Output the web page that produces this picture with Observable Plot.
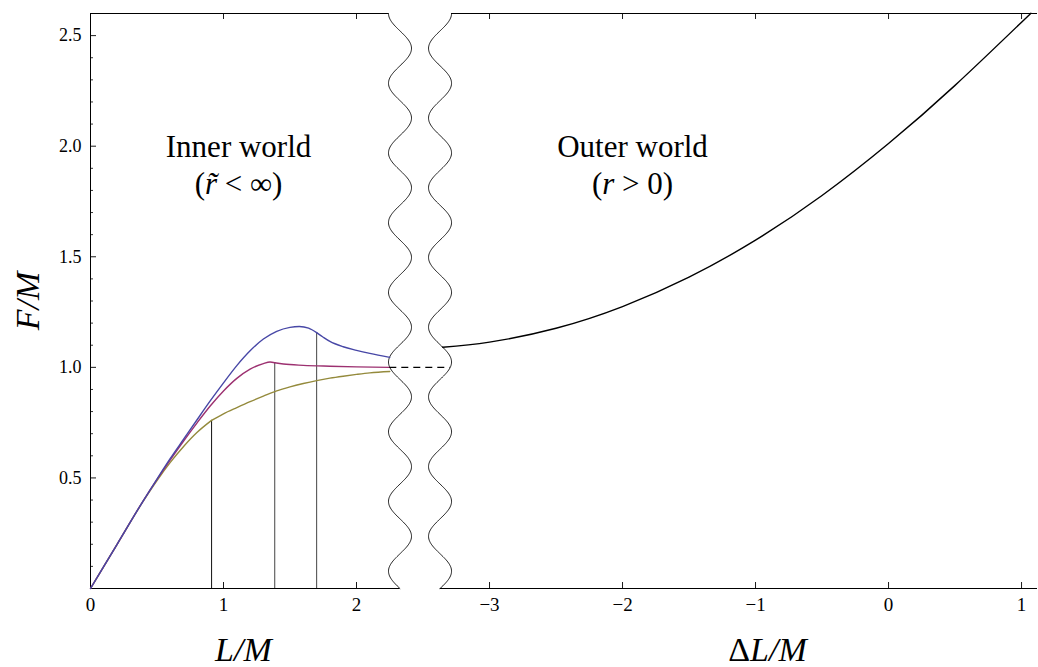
<!DOCTYPE html>
<html><head><meta charset="utf-8">
<script src="https://cdn.jsdelivr.net/npm/d3@7"></script>
<script src="https://cdn.jsdelivr.net/npm/@observablehq/plot@0.6"></script>
<style>body{margin:0;background:#fff} #chart{width:1038px;height:667px}</style>
</head><body><div id="chart"></div>
<script>
// ---- Inner world (left panel): L/M vs F/M ----
const blueL = [0, 0.2, 0.4, 0.5, 0.6, 0.7, 0.8, 0.9, 1.0, 1.1, 1.2, 1.3, 1.4, 1.5, 1.57, 1.64, 1.70, 1.75, 1.8, 1.9, 2.0, 2.1, 2.25];
const blueF = [0, 0.2, 0.4, 0.495, 0.588, 0.675, 0.762, 0.848, 0.93, 1.008, 1.075, 1.128, 1.163, 1.181, 1.185, 1.177, 1.157, 1.136, 1.117, 1.093, 1.077, 1.063, 1.045];
const blueKink = 1.70;
const purpleL = [0, 0.2, 0.4, 0.5, 0.6, 0.7, 0.8, 0.9, 1.0, 1.1, 1.2, 1.3, 1.35, 1.385, 1.45, 1.6, 1.8, 2.0, 2.25];
const purpleF = [0, 0.2, 0.4, 0.493, 0.582, 0.667, 0.748, 0.825, 0.893, 0.95, 0.992, 1.017, 1.024, 1.021, 1.015, 1.009, 1.005, 1.002, 1.0];
const purpleKink = 1.385;
const oliveL = [0, 0.2, 0.4, 0.5, 0.6, 0.7, 0.8, 0.91, 1.0, 1.1, 1.2, 1.3, 1.4, 1.5, 1.6, 1.7, 1.8, 1.9, 2.0, 2.1, 2.25];
const oliveF = [0, 0.2, 0.398, 0.488, 0.57, 0.642, 0.705, 0.76, 0.79, 0.818, 0.845, 0.87, 0.894, 0.912, 0.927, 0.94, 0.951, 0.96, 0.968, 0.975, 0.981];
const oliveKink = 0.91;

// ---- Outer world (right panel): ΔL/M vs F/M ----
const outerDL = [-3.352, -3.0, -2.5, -2.0, -1.5, -1.0, -0.5, 0.0, 0.5, 1.07];
const outerF  = [1.091, 1.114, 1.177, 1.275, 1.408, 1.575, 1.777, 2.012, 2.275, 2.601];

const xTicksLeft = [0, 1, 2];
const xTicksRight = [-3, -2, -1, 0, 1];
const yTicks = [0.5, 1.0, 1.5, 2.0, 2.5];
const yMinor = [0.1, 0.2, 0.3, 0.4, 0.6, 0.7, 0.8, 0.9, 1.1, 1.2, 1.3, 1.4, 1.6, 1.7, 1.8, 1.9, 2.1, 2.2, 2.3, 2.4];

const colors = {blue: "#4747a6", purple: "#9c3070", olive: "#948a3c"};

// layout
const W = 1038, H = 667, ml = 90, mr = 1, mt = 13, mb = 79;
const yMax = 2.6, xMax = 7.12, shift = 6; // ΔL = u - shift on the shared axis
const kx = (W - ml - mr) / xMax, ky = (H - mt - mb) / yMax;

// break marks (wavy edges)
const wave = {period: 0.3152, amp: 0.0865, leftC: 2.327, rightC: 2.628};
const waveLeft = F => wave.leftC - wave.amp * Math.cos(2 * Math.PI * (yMax - F) / wave.period);
const waveRight = F => wave.rightC + wave.amp * Math.cos(2 * Math.PI * (yMax - F) / wave.period);
const waveRows = d3.range(0, yMax + 1e-9, 0.004).map(F => ({F, uL: waveLeft(F), uR: waveRight(F)}));

function rows(name, Ls, Fs, kink) {
  const out = [];
  Ls.forEach((L, i) => {
    if (L <= kink + 1e-9) out.push({name, seg: name + "a", L, F: Fs[i]});
    if (L >= kink - 1e-9) out.push({name, seg: name + "b", L, F: Fs[i]});
  });
  return out;
}
const inner = [
  ...rows("olive", oliveL, oliveF, oliveKink),
  ...rows("purple", purpleL, purpleF, purpleKink),
  ...rows("blue", blueL, blueF, blueKink)
];
const kinks = [
  {L: oliveKink, F: oliveF[oliveL.indexOf(oliveKink)], c: "#222"},
  {L: purpleKink, F: purpleF[purpleL.indexOf(purpleKink)], c: "#555"},
  {L: blueKink, F: blueF[blueL.indexOf(blueKink)], c: "#555"}
];
const outer = outerDL.map((d, i) => ({u: d + shift, F: outerF[i]}));
const xTickPos = [...xTicksLeft, ...xTicksRight.map(d => d + shift)];
const fmtX = d => {
  const v = d > 2.5 ? Math.round(d - shift) : d;
  return v < 0 ? "\u2212" + Math.abs(v) : String(v);
};
const tlx = 6 / kx, tly = 6 / ky, mlx = 3 / kx;

const svg = Plot.plot({
  width: W, height: H,
  marginLeft: ml, marginRight: mr, marginTop: mt, marginBottom: mb,
  x: {domain: [0, xMax]},
  y: {domain: [0, yMax]},
  style: {fontFamily: "Liberation Serif, serif", fontSize: "18px", background: "white", color: "black"},
  marks: [
    // frame pieces
    Plot.ruleX([0], {y1: 0, y2: yMax, stroke: "black", strokeWidth: 1}),
    Plot.ruleY([0], {x1: 0, x2: waveLeft(0), stroke: "black", strokeWidth: 1}),
    Plot.ruleY([0], {x1: waveRight(0), x2: xMax, stroke: "black", strokeWidth: 1}),
    Plot.ruleY([yMax], {x1: 0, x2: waveLeft(yMax), stroke: "black", strokeWidth: 1}),
    Plot.ruleY([yMax], {x1: waveRight(yMax), x2: xMax, stroke: "black", strokeWidth: 1}),
    Plot.line(waveRows, {x: "uL", y: "F", stroke: "black", strokeWidth: 0.9}),
    Plot.line(waveRows, {x: "uR", y: "F", stroke: "black", strokeWidth: 0.9}),
    // inward ticks
    Plot.ruleY(yTicks, {x1: 0, x2: tlx, stroke: "black", strokeWidth: 0.9}),
    Plot.ruleY(yMinor, {x1: 0, x2: mlx, stroke: "black", strokeWidth: 0.8}),
    Plot.ruleX(xTickPos.filter(d => d > 0), {y1: 0, y2: tly, stroke: "black", strokeWidth: 0.9}),
    Plot.ruleX(xTickPos.filter(d => d > 0), {y1: yMax - tly, y2: yMax, stroke: "black", strokeWidth: 0.9}),
    // tick labels
    Plot.axisX(xTickPos, {tickSize: 0, tickPadding: 9, tickFormat: fmtX, fontSize: 19, label: null}),
    Plot.axisY(yTicks, {tickSize: 0, tickPadding: 9, tickFormat: d3.format(".1f"), fontSize: 18, label: null}),
    // data
    Plot.ruleX(kinks, {x: "L", y1: 0, y2: "F", stroke: "c", strokeWidth: 1.1}),
    Plot.line(inner, {x: "L", y: "F", z: "seg", stroke: d => colors[d.name], strokeWidth: 1.4, curve: "monotone-x"}),
    Plot.line(outer, {x: "u", y: "F", stroke: "black", strokeWidth: 1.4, curve: "natural"}),
    Plot.ruleY([1], {x1: waveLeft(1), x2: waveRight(1), stroke: "black", strokeWidth: 1.2, strokeDasharray: "7,5"}),
    // annotations
    Plot.text(["Inner world"], {x: 1.113, y: 1.953, text: d => d, fontSize: 31, lineAnchor: "bottom"}),
    Plot.text(["(r\u0303 < \u221e)"], {x: 1.113, y: 1.786, text: d => d, fontSize: 31, lineAnchor: "bottom"}),
    Plot.text(["Outer world"], {x: 4.075, y: 1.953, text: d => d, fontSize: 31, lineAnchor: "bottom"}),
    Plot.text(["(r > 0)"], {x: 4.075, y: 1.786, text: d => d, fontSize: 31, lineAnchor: "bottom"}),
    // axis labels
    Plot.text(["L/M"], {x: 1.15, frameAnchor: "bottom", dy: 72, text: d => d, fontSize: 34, fontStyle: "italic", lineAnchor: "bottom"}),
    Plot.text(["\u0394L/M"], {x: 5.09, frameAnchor: "bottom", dy: 72, text: d => d, fontSize: 34, lineAnchor: "bottom"}),
    Plot.text(["F/M"], {frameAnchor: "left", dx: -62, rotate: -90, textAnchor: "middle", lineAnchor: "middle", text: d => d, fontSize: 34, fontStyle: "italic"})
  ]
});

// mixed upright / italic math text
const parts = {
  "\u0394L/M": [["\u0394", false], ["L/M", true]],
  "(r\u0303 < \u221e)": [["(", false], ["r\u0303", true], [" < \u221e)", false]],
  "(r > 0)": [["(", false], ["r", true], [" > 0)", false]]
};
d3.select(svg).selectAll("text").each(function () {
  const p = parts[this.textContent];
  if (!p) return;
  const sel = d3.select(this);
  sel.text(null);
  p.forEach(([s, it]) => sel.append("tspan").attr("font-style", it ? "italic" : "normal").text(s));
});
document.getElementById("chart").appendChild(svg);
</script></body></html>
